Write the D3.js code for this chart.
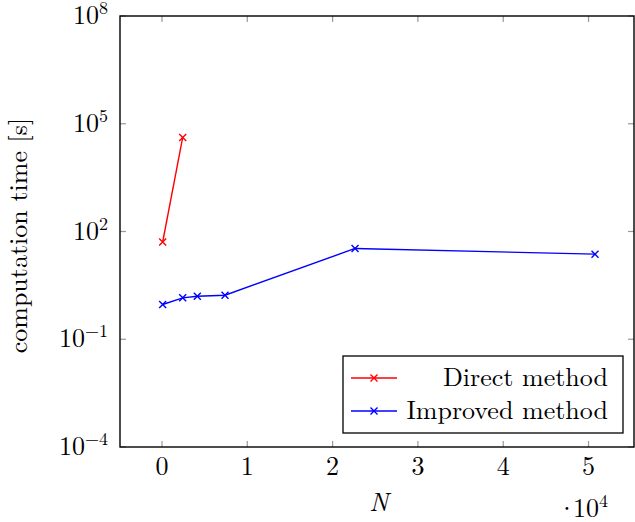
<!DOCTYPE html>
<html>
<head>
<meta charset="utf-8">
<script src="https://cdn.jsdelivr.net/npm/d3@7"></script>
<style>
  body { margin: 0; background: #fff; }
  svg { display: block; }
</style>
</head>
<body>
<svg width="635" height="522"></svg>
<script>
// computation time vs N, direct vs improved method
const directN = [81, 2430];
const directTime = [51, 41700];
const improvedN = [81, 2430, 4140, 7390, 22630, 50760];
const improvedTime = [0.93, 1.42, 1.58, 1.68, 33.7, 23.4];
const xTicks = [0, 10000, 20000, 30000, 40000, 50000];
const yTicks = [1e-4, 1e-1, 1e2, 1e5, 1e8];
const seriesNames = ['Direct method', 'Improved method'];
const seriesColors = ['#ff0000', '#0000ff'];

const svg = d3.select('svg')
  .style('font-family', "'Latin Modern Roman', 'Liberation Serif', 'Times New Roman', serif");
const plotL = 120, plotR = 634, plotT = 16, plotB = 447;
const fs = 26, fsSup = 18;

const x = d3.scaleLinear().domain([-4920, 55330]).range([plotL, plotR]);
const y = d3.scaleLog().domain([1e-4, 1e8]).range([plotB, plotT]);

// ticks, grey, pointing inward on all sides
const tickG = svg.append('g').attr('stroke', '#999').attr('stroke-width', 1.2);
xTicks.forEach(t => {
  tickG.append('line').attr('x1', x(t)).attr('x2', x(t)).attr('y1', plotB).attr('y2', plotB - 6);
  tickG.append('line').attr('x1', x(t)).attr('x2', x(t)).attr('y1', plotT).attr('y2', plotT + 6);
});
yTicks.forEach(t => {
  tickG.append('line').attr('x1', plotL).attr('x2', plotL + 6).attr('y1', y(t)).attr('y2', y(t));
  tickG.append('line').attr('x1', plotR).attr('x2', plotR - 6).attr('y1', y(t)).attr('y2', y(t));
});

// frame
svg.append('rect')
  .attr('x', plotL).attr('y', plotT)
  .attr('width', plotR - plotL).attr('height', plotB - plotT)
  .attr('fill', 'none').attr('stroke', '#000').attr('stroke-width', 1.4);

// x tick labels
svg.append('g').selectAll('text')
  .data(xTicks)
  .enter()
  .append('text')
    .attr('x', d => x(d))
    .attr('y', 475)
    .attr('text-anchor', 'middle')
    .attr('font-size', fs)
    .text(d => d / 10000);

// y tick labels as powers of ten
const yl = svg.append('g').selectAll('text')
  .data(yTicks)
  .enter()
  .append('text')
    .attr('x', 108)
    .attr('y', d => y(d) + 8)
    .attr('text-anchor', 'end')
    .attr('font-size', fs);
yl.append('tspan').text('10');
yl.append('tspan')
  .attr('dy', -10)
  .attr('font-size', fsSup)
  .text(d => {
    const e = Math.round(Math.log10(d));
    return e < 0 ? '\u2212' + (-e) : String(e);
  });

// axis labels
svg.append('text')
  .attr('x', 379).attr('y', 511)
  .attr('text-anchor', 'middle')
  .attr('font-size', fs)
  .attr('font-style', 'italic')
  .text('N');

const sc = svg.append('text')
  .attr('x', 608).attr('y', 517)
  .attr('text-anchor', 'end')
  .attr('font-size', fs);
sc.append('tspan').text('\u00b7');
sc.append('tspan').attr('dx', -4).text('10');
sc.append('tspan').attr('dy', -10).attr('font-size', fsSup).text('4');

svg.append('text')
  .attr('transform', `translate(27,${(plotT + plotB) / 2 + 4}) rotate(-90)`)
  .attr('text-anchor', 'middle')
  .attr('font-size', fs)
  .text('computation time [s]');

// lines with cross markers
const line = d3.line().x(d => x(d[0])).y(d => y(d[1]));
const cross = (g, cx, cy, color) => {
  g.append('path')
    .attr('d', `M${cx - 3.5},${cy - 3.5}L${cx + 3.5},${cy + 3.5}M${cx - 3.5},${cy + 3.5}L${cx + 3.5},${cy - 3.5}`)
    .attr('stroke', color).attr('stroke-width', 1.4).attr('fill', 'none');
};
const series = [
  d3.zip(directN, directTime),
  d3.zip(improvedN, improvedTime)
];
series.forEach((pts, i) => {
  const g = svg.append('g');
  g.append('path')
    .datum(pts)
    .attr('d', line)
    .attr('fill', 'none')
    .attr('stroke', seriesColors[i])
    .attr('stroke-width', 1.4);
  pts.forEach(p => cross(g, x(p[0]), y(p[1]), seriesColors[i]));
});

// legend
const leg = svg.append('g');
leg.append('rect')
  .attr('x', 343).attr('y', 356)
  .attr('width', 280).attr('height', 77)
  .attr('fill', '#fff').attr('stroke', '#000').attr('stroke-width', 1.3);
seriesNames.forEach((name, i) => {
  const ly = 378 + i * 33;
  leg.append('line')
    .attr('x1', 351).attr('x2', 397).attr('y1', ly).attr('y2', ly)
    .attr('stroke', seriesColors[i]).attr('stroke-width', 1.4);
  cross(leg, 374, ly, seriesColors[i]);
  leg.append('text')
    .attr('x', 608).attr('y', ly + 8)
    .attr('text-anchor', 'end')
    .attr('font-size', fs)
    .text(name);
});
</script>
</body>
</html>
